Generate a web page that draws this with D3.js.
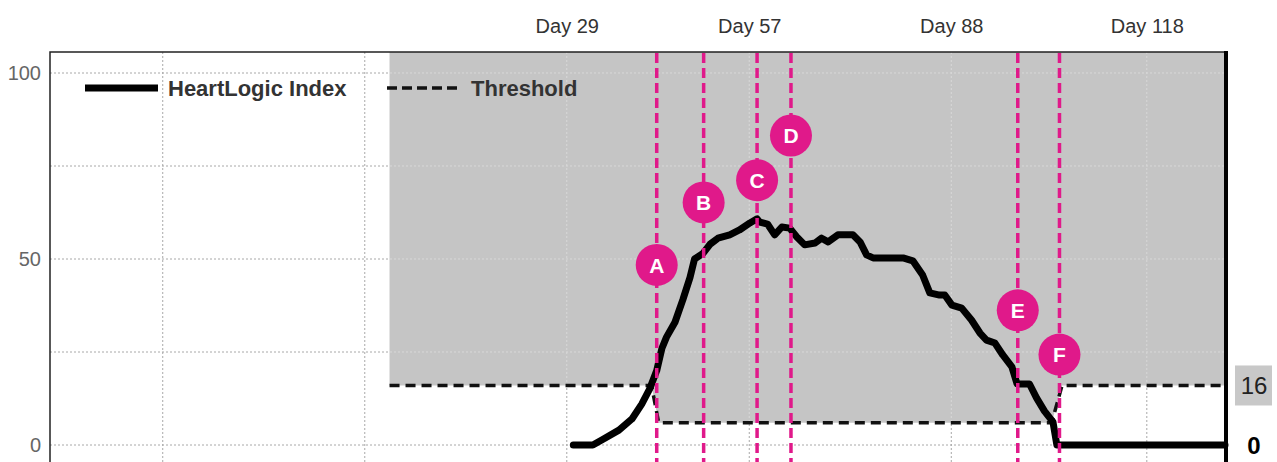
<!DOCTYPE html>
<html>
<head>
<meta charset="utf-8">
<script src="https://cdn.jsdelivr.net/npm/d3@7"></script>
<style>
  body { margin: 0; background: #fff; }
  svg { display: block; font-family: "Liberation Sans", Arial, Helvetica, sans-serif; }
</style>
</head>
<body>
<script>
var width = 1277,
    height = 462;

// HeartLogic index (days since start, index value)
var indexDays = [30, 33, 34.5, 37, 39, 40.5, 41.7, 42.8, 43.6, 44.3, 45.6, 46.8, 47.9, 48.6, 49.9, 51,
  52.2, 54, 55.5, 57.1, 58.2, 58.6, 59.8, 60.9, 62, 63.2, 64.3, 65.5, 67.1, 68.1, 69.1, 70.6, 72.9,
  74, 75, 76, 80.6, 82.1, 83.6, 84.7, 86.2, 87, 88.1, 89.6, 91.1, 92.4, 93.4, 94.7, 95.9, 97.3, 98.1,
  100, 101.1, 102.3, 103.6, 104.2, 130];
var indexValues = [0, 0, 1.5, 4, 7, 11, 15, 20, 26, 29, 33, 39, 45, 50, 51.5, 54,
  55.6, 56.5, 57.8, 59.7, 60.8, 59.9, 59.4, 56.5, 58.6, 58.3, 55.9, 53.8, 54.3, 55.6, 54.6, 56.5, 56.5,
  54.6, 51.1, 50.3, 50.3, 49.5, 45.7, 40.9, 40.3, 40.3, 37.6, 36.8, 33.6, 30.1, 28.2, 27.4, 24.2, 21, 16.4,
  16.4, 12.6, 9.1, 6.2, 0, 0];

// alert threshold
var thrDays = [1.8, 42, 43.1, 103.4, 105, 130];
var thrValues = [16, 16, 6, 6, 16, 16];

// event markers
var eventLabels = ["A", "B", "C", "D", "E", "F"];
var eventDays = [42.8, 50, 58.2, 63.4, 98.2, 104.6];
var eventLevels = [48.4, 65.2, 71.2, 83.2, 36.2, 24.3];

var dayTicks = [29, 57, 88, 118];
var gridDays = [-33, -2, 29, 57, 88, 118];
var valueTicks = [0, 50, 100];
var gridValues = [0, 25, 50, 75, 100];

var pink = "#e0198a";
var plotTop = 52, plotBottom = 470, plotLeft = 50, plotRight = 1225;

var x = d3.scaleLinear().domain([-50.3, 130]).range([plotLeft, plotRight]);
var y = d3.scaleLinear().domain([0, 100]).range([445, 73]);

var svg = d3.select("body").append("svg")
    .attr("width", width)
    .attr("height", height);

var thr = thrDays.map((d, i) => ({day: d, value: thrValues[i]}));
var idx = indexDays.map((d, i) => ({day: d, value: indexValues[i]}));

var area = d3.area()
    .x(d => x(d.day))
    .y0(plotTop)
    .y1(d => y(d.value));

svg.append("defs").append("clipPath")
    .attr("id", "alert")
  .append("path")
    .attr("d", area(thr));

function drawGrid(g, color) {
  g.selectAll("line.h")
    .data(gridValues)
    .join("line")
      .attr("class", "h")
      .attr("x1", plotLeft).attr("x2", plotRight)
      .attr("y1", d => y(d)).attr("y2", d => y(d));
  g.selectAll("line.v")
    .data(gridDays)
    .join("line")
      .attr("class", "v")
      .attr("x1", d => x(d)).attr("x2", d => x(d))
      .attr("y1", plotTop).attr("y2", plotBottom);
  g.attr("stroke", color)
    .attr("stroke-width", 1)
    .attr("stroke-dasharray", "2,2");
}

drawGrid(svg.append("g"), "#a8a8a8");

svg.append("path")
    .attr("d", area(thr))
    .attr("fill", "#c5c5c5");

drawGrid(svg.append("g").attr("clip-path", "url(#alert)"), "#d8d8d8");

// frame
svg.append("path")
    .attr("d", `M${plotLeft},${plotBottom}V${plotTop}H${plotRight}`)
    .attr("fill", "none")
    .attr("stroke", "#222")
    .attr("stroke-width", 1.5);
svg.append("line")
    .attr("x1", plotRight + 1).attr("x2", plotRight + 1)
    .attr("y1", plotTop - 1).attr("y2", plotBottom)
    .attr("stroke", "#000")
    .attr("stroke-width", 4);

var line = d3.line()
    .x(d => x(d.day))
    .y(d => y(d.value));

svg.append("path")
    .attr("d", line(thr))
    .attr("fill", "none")
    .attr("stroke", "#111")
    .attr("stroke-width", 3.5)
    .attr("stroke-dasharray", "10,6");

svg.append("path")
    .attr("d", line(idx))
    .attr("fill", "none")
    .attr("stroke", "#000")
    .attr("stroke-width", 7)
    .attr("stroke-linejoin", "round")
    .attr("stroke-linecap", "round");

// event lines and badges
var ev = svg.append("g")
  .selectAll("g")
  .data(eventLabels.map((l, i) => ({label: l, day: eventDays[i], level: eventLevels[i]})))
  .join("g");

ev.append("line")
    .attr("x1", d => x(d.day)).attr("x2", d => x(d.day))
    .attr("y1", plotTop + 1).attr("y2", plotBottom)
    .attr("stroke", pink)
    .attr("stroke-width", 3.5)
    .attr("stroke-dasharray", "10,5");

ev.append("circle")
    .attr("cx", d => x(d.day))
    .attr("cy", d => y(d.level))
    .attr("r", 21)
    .attr("fill", pink);

ev.append("text")
    .attr("x", d => x(d.day))
    .attr("y", d => y(d.level))
    .attr("dy", "0.36em")
    .attr("text-anchor", "middle")
    .attr("fill", "#fff")
    .attr("font-weight", "bold")
    .attr("font-size", 21)
    .text(d => d.label);

// axes
var xAxis = svg.append("g")
    .attr("transform", `translate(0,${plotTop})`)
    .call(d3.axisTop(x).tickValues(dayTicks).tickSize(0).tickPadding(19).tickFormat(d => "Day " + d));
xAxis.select(".domain").remove();
xAxis.selectAll("text")
    .attr("font-size", 20)
    .attr("font-family", null)
    .attr("fill", "#333");

var yAxis = svg.append("g")
    .attr("transform", `translate(${plotLeft},0)`)
    .call(d3.axisLeft(y).tickValues(valueTicks).tickSize(0).tickPadding(9));
yAxis.select(".domain").remove();
yAxis.selectAll("text")
    .attr("font-size", 20)
    .attr("font-family", null)
    .attr("fill", "#666");

// right-hand value labels
svg.append("rect")
    .attr("x", 1235).attr("y", y(16) - 20)
    .attr("width", 37).attr("height", 40)
    .attr("fill", "#c8c8c8");
svg.append("text")
    .attr("x", 1254).attr("y", y(16))
    .attr("dy", "0.36em")
    .attr("text-anchor", "middle")
    .attr("font-size", 24)
    .attr("fill", "#222")
    .text("16");
svg.append("text")
    .attr("x", 1254).attr("y", y(0))
    .attr("dy", "0.36em")
    .attr("text-anchor", "middle")
    .attr("font-size", 24)
    .attr("font-weight", "bold")
    .attr("fill", "#000")
    .text("0");

// legend
var legend = svg.append("g").attr("transform", "translate(0,88)");
legend.append("line")
    .attr("x1", 85).attr("x2", 158)
    .attr("stroke", "#000")
    .attr("stroke-width", 7);
legend.append("text")
    .attr("x", 168).attr("dy", "0.36em")
    .attr("font-size", 22).attr("font-weight", "bold").attr("fill", "#333")
    .text("HeartLogic Index");
legend.append("line")
    .attr("x1", 387).attr("x2", 458)
    .attr("stroke", "#111")
    .attr("stroke-width", 3.5)
    .attr("stroke-dasharray", "10,5");
legend.append("text")
    .attr("x", 471).attr("dy", "0.36em")
    .attr("font-size", 22).attr("font-weight", "bold").attr("fill", "#333")
    .text("Threshold");
</script>
</body>
</html>
